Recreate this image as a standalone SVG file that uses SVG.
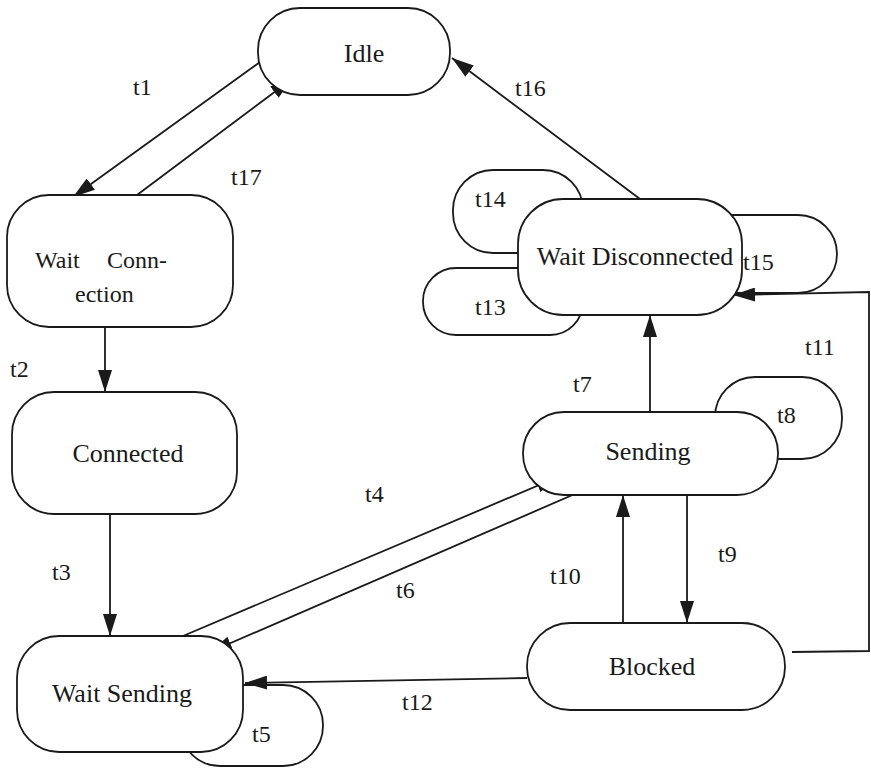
<svg xmlns="http://www.w3.org/2000/svg" width="871" height="769" viewBox="0 0 871 769" font-family="'Liberation Serif', 'Times New Roman', Times, serif">
  <style>
    .state { fill: #fff; stroke: #1a1a1a; stroke-width: 1.8; }
    .loop { fill: none; stroke: #1a1a1a; stroke-width: 1.8; }
    .edge { fill: none; stroke: #1a1a1a; stroke-width: 1.8; }
    text { font-size: 24px; fill: #1a1a1a; }
    .name { text-anchor: middle; font-size: 26px; }
  </style>
  <defs>
    <marker id="arrow" viewBox="0 0 22 14" refX="22" refY="7" markerWidth="22" markerHeight="14" markerUnits="userSpaceOnUse" orient="auto">
      <path d="M0,0 L22,7 L0,14 Z" fill="#1a1a1a"/>
    </marker>
  </defs>

  <!-- self-loops, drawn beneath their states -->
  <g id="loops">
    <rect class="loop" x="453" y="170" width="130" height="83" rx="40"/>
    <rect class="loop" x="423" y="268" width="160" height="67" rx="33"/>
    <rect class="loop" x="690" y="215" width="147" height="78" rx="39"/>
    <rect class="loop" x="715" y="377" width="127" height="82" rx="40"/>
    <rect class="loop" x="180" y="685" width="143" height="81" rx="40"/>
  </g>

  <!-- transitions -->
  <g id="connectors">
    <line class="edge" x1="260" y1="62" x2="73" y2="197" marker-end="url(#arrow)"/>
    <line class="edge" x1="137" y1="195" x2="292" y2="79" marker-end="url(#arrow)"/>
    <line class="edge" x1="640" y1="199" x2="452" y2="58" marker-end="url(#arrow)"/>
    <line class="edge" x1="105" y1="327" x2="105" y2="392" marker-end="url(#arrow)"/>
    <line class="edge" x1="110" y1="514" x2="110" y2="636" marker-end="url(#arrow)"/>
    <line class="edge" x1="183" y1="636" x2="558" y2="477" marker-end="url(#arrow)"/>
    <line class="edge" x1="614" y1="477" x2="210" y2="652" marker-end="url(#arrow)"/>
    <line class="edge" x1="650" y1="412" x2="650" y2="315" marker-end="url(#arrow)"/>
    <line class="edge" x1="687" y1="495" x2="687" y2="623" marker-end="url(#arrow)"/>
    <line class="edge" x1="623" y1="623" x2="623" y2="495" marker-end="url(#arrow)"/>
    <line class="edge" x1="527" y1="678" x2="245" y2="683" marker-end="url(#arrow)"/>
    <polyline class="edge" points="792,652 869,651 869,292 733,295" marker-end="url(#arrow)"/>
  </g>

  <g id="idle">
    <rect class="state" x="258" y="8" width="192" height="87" rx="42"/>
    <text class="name" x="364" y="62">Idle</text>
  </g>
  <g id="wait-connection">
    <rect class="state" x="7" y="195" width="226" height="132" rx="42"/>
    <text x="35" y="268" font-size="26">Wait<tspan x="107">Conn-</tspan></text>
    <text x="75" y="302" font-size="26">ection</text>
  </g>
  <g id="connected">
    <rect class="state" x="12" y="392" width="225" height="122" rx="42"/>
    <text class="name" x="128" y="462">Connected</text>
  </g>
  <g id="wait-sending">
    <rect class="state" x="17" y="636" width="226" height="116" rx="42"/>
    <text class="name" x="122" y="702">Wait Sending</text>
  </g>
  <g id="wait-disconnected">
    <rect class="state" x="518" y="199" width="224" height="116" rx="45"/>
    <text class="name" x="635" y="265">Wait Disconnected</text>
  </g>
  <g id="sending">
    <rect class="state" x="523" y="412" width="255" height="83" rx="41"/>
    <text class="name" x="648" y="460">Sending</text>
  </g>
  <g id="blocked">
    <rect class="state" x="527" y="623" width="258" height="87" rx="43"/>
    <text class="name" x="652" y="675">Blocked</text>
  </g>

  <!-- transition labels -->
  <g id="labels">
    <text x="133" y="95">t1</text>
    <text x="231" y="185">t17</text>
    <text x="515" y="96">t16</text>
    <text x="475" y="207">t14</text>
    <text x="743" y="270">t15</text>
    <text x="475" y="315">t13</text>
    <text x="805" y="355">t11</text>
    <text x="10" y="377">t2</text>
    <text x="573" y="392">t7</text>
    <text x="777" y="423">t8</text>
    <text x="365" y="502">t4</text>
    <text x="396" y="598">t6</text>
    <text x="550" y="584">t10</text>
    <text x="718" y="562">t9</text>
    <text x="52" y="580">t3</text>
    <text x="402" y="710">t12</text>
    <text x="252" y="742">t5</text>
  </g>
</svg>
